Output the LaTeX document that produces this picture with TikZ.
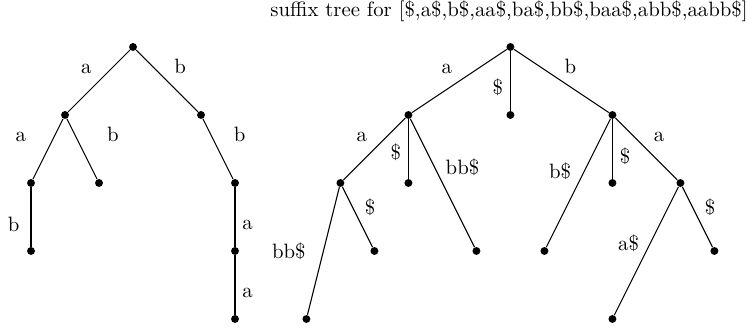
\documentclass[tikz,border=0pt]{standalone}
\usepackage{tikz}
\usetikzlibrary{positioning}

\begin{document}
\begin{tikzpicture}[
  x=0.575cm, y=1.15cm,
  dot/.style={circle, fill=black, inner sep=0pt, minimum size=3.8pt},
  edge/.style={draw, line width=0.5pt},
  vlbl/.style={pos=0.63}
]
  \useasboundingbox (-0.912,0.691) rectangle (21.088,-4.118);

  % Left trie (levels at y = 0, -1, -2, -3, -4)
  \node[dot] (L0) at (3,0) {};
  \node[dot] (La) at (1,-1) {};
  \node[dot] (Lb) at (5,-1) {};
  \node[dot] (Laa) at (0,-2) {};
  \node[dot] (Lab) at (2,-2) {};
  \node[dot] (Lbb) at (6,-2) {};
  \node[dot] (Laab) at (0,-3) {};
  \node[dot] (Lbba) at (6,-3) {};
  \node[dot] (Lbbaa) at (6,-4) {};

  \draw[edge] (L0) -- node[above left] {a} (La);
  \draw[edge] (L0) -- node[above right] {b} (Lb);
  \draw[edge] (La) -- node[above left, xshift=-7pt] {a} (Laa);
  \draw[edge] (La) -- node[above right, xshift=8.5pt] {b} (Lab);
  \draw[edge] (Lb) -- node[above right, xshift=4pt] {b} (Lbb);
  \draw[edge] (Laa) -- node[vlbl, left, xshift=-2pt] {b} (Laab);
  \draw[edge] (Lbb) -- node[vlbl, right] {a} (Lbba);
  \draw[edge] (Lbba) -- node[vlbl, right] {a} (Lbbaa);

  % Suffix tree (right)
  \node (title) at (14.06,0.52) {suffix tree for [\$,a\$,b\$,aa\$,ba\$,bb\$,baa\$,abb\$,aabb\$]};

  \node[dot] (R0) at (14.1,0) {};
  \node[dot] (Ra) at (11.1,-1) {};
  \node[dot] (Rd) at (14.1,-1) {};
  \node[dot] (Rb) at (17.1,-1) {};
  \node[dot] (Raa) at (9.1,-2) {};
  \node[dot] (Rad) at (11.1,-2) {};
  \node[dot] (Rabb) at (13.1,-3) {};
  \node[dot] (Raabb) at (8.1,-4) {};
  \node[dot] (Raad) at (10.1,-3) {};
  \node[dot] (Rbb) at (15.1,-3) {};
  \node[dot] (Rbd) at (17.1,-2) {};
  \node[dot] (Rba) at (19.1,-2) {};
  \node[dot] (Rbaa) at (17.1,-4) {};
  \node[dot] (Rbad) at (20.1,-3) {};

  \draw[edge] (R0) -- node[above left] {a} (Ra);
  \draw[edge] (R0) -- node[pos=0.6, left] {\$} (Rd);
  \draw[edge] (R0) -- node[above right, xshift=-2pt] {b} (Rb);
  \draw[edge] (Ra) -- node[above left] {a} (Raa);
  \draw[edge] (Ra) -- node[pos=0.56, left] {\$} (Rad);
  \draw[edge] (Ra) -- node[above right, xshift=-2pt] {bb\$} (Rabb);
  \draw[edge] (Raa) -- node[left=5pt] {bb\$} (Raabb);
  \draw[edge] (Raa) -- node[above right, yshift=-3pt] {\$} (Raad);
  \draw[edge] (Rb) -- node[above left, yshift=-2pt] {b\$} (Rbb);
  \draw[edge] (Rb) -- node[pos=0.63, right] {\$} (Rbd);
  \draw[edge] (Rb) -- node[above right] {a} (Rba);
  \draw[edge] (Rba) -- node[above left, yshift=-4pt] {a\$} (Rbaa);
  \draw[edge] (Rba) -- node[above right, yshift=-3pt] {\$} (Rbad);

\end{tikzpicture}
\end{document}
